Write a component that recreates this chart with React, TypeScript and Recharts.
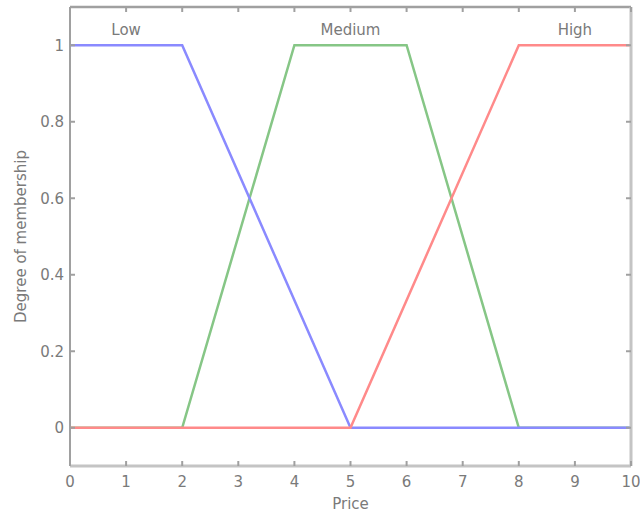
import React from 'react';
import { LineChart, Line, XAxis, YAxis, ReferenceDot } from 'recharts';

const lowX = [0, 2, 5, 10];
const lowY = [1, 1, 0, 0];
const mediumX = [0, 2, 4, 6, 8, 10];
const mediumY = [0, 0, 1, 1, 0, 0];
const highX = [0, 5, 8, 10];
const highY = [0, 0, 1, 1];
const xTicks = [0, 1, 2, 3, 4, 5, 6, 7, 8, 9, 10];
const yTicks = [0, 0.2, 0.4, 0.6, 0.8, 1];
const setLabels = ['Low', 'Medium', 'High'];
const setLabelX = [1, 5, 9];
const setLabelY = 1.042;

const toPts = (xs: number[], ys: number[]) => xs.map((x, i) => ({ x, y: ys[i] }));
const lowData = toPts(lowX, lowY);
const mediumData = toPts(mediumX, mediumY);
const highData = toPts(highX, highY);

const AXIS = '#a0a0a0';
const TXT = '#7a7a7a';
const FONT = '"DejaVu Sans", Verdana, sans-serif';
const FS = 15;

const BottomTick = (p: any) => (
  <g>
    <line x1={p.x} y1={p.y} x2={p.x} y2={p.y - 5} stroke={AXIS} strokeWidth={2} />
    <text x={p.x} y={p.y + 21} textAnchor="middle" fill={TXT} fontSize={FS} fontFamily={FONT}>
      {p.payload.value}
    </text>
  </g>
);
const TopTick = (p: any) => (
  <line x1={p.x} y1={p.y} x2={p.x} y2={p.y + 5} stroke={AXIS} strokeWidth={2} />
);
const LeftTick = (p: any) => (
  <g>
    <line x1={p.x} y1={p.y} x2={p.x + 5} y2={p.y} stroke={AXIS} strokeWidth={2} />
    <text x={p.x - 6} y={p.y + 5.5} textAnchor="end" fill={TXT} fontSize={FS} fontFamily={FONT}>
      {p.payload.value}
    </text>
  </g>
);
const RightTick = (p: any) => (
  <line x1={p.x} y1={p.y} x2={p.x - 5} y2={p.y} stroke={AXIS} strokeWidth={2} />
);

export default function App() {
  return (
    <div style={{ position: 'absolute', left: 0, top: 0, background: '#fff' }}>
      <LineChart width={640} height={514} margin={{ top: 6, right: 8, left: 0, bottom: 0 }}>
        <XAxis xAxisId="b" dataKey="x" type="number" domain={[0, 10]} ticks={xTicks} height={48}
          tickSize={0} tickMargin={0} tickLine={false} tick={BottomTick}
          axisLine={{ stroke: '#c4c4c4', strokeWidth: 3 }}
          label={{ value: 'Price', position: 'insideBottom', offset: 5.5, fill: TXT, fontSize: FS, fontFamily: FONT }} />
        <XAxis xAxisId="t" orientation="top" dataKey="x" type="number" domain={[0, 10]} ticks={xTicks} height={1}
          tickSize={0} tickMargin={0} tickLine={false} tick={TopTick}
          axisLine={{ stroke: AXIS, strokeWidth: 2.5 }} />
        <YAxis yAxisId="l" type="number" domain={[-0.1, 1.1]} ticks={yTicks} width={70}
          tickSize={0} tickMargin={0} tickLine={false} tick={LeftTick}
          axisLine={{ stroke: AXIS, strokeWidth: 2 }}
          label={{ value: 'Degree of membership', angle: -90, position: 'insideLeft', offset: 21, style: { textAnchor: 'middle' }, fill: TXT, fontSize: FS, fontFamily: FONT }} />
        <YAxis yAxisId="r" orientation="right" type="number" domain={[-0.1, 1.1]} ticks={yTicks} width={1}
          tickSize={0} tickMargin={0} tickLine={false} tick={RightTick}
          axisLine={{ stroke: '#c4c4c4', strokeWidth: 3 }} />
        <Line xAxisId="t" yAxisId="r" data={lowData} dataKey="y" stroke="none" dot={false} legendType="none" isAnimationActive={false} />
        <Line xAxisId="b" yAxisId="l" data={mediumData} dataKey="y" type="linear" stroke="#86c686" strokeWidth={2.5} dot={false} isAnimationActive={false} />
        <Line xAxisId="b" yAxisId="l" data={lowData} dataKey="y" type="linear" stroke="#8a8aff" strokeWidth={2.5} dot={false} isAnimationActive={false} />
        <Line xAxisId="b" yAxisId="l" data={highData} dataKey="y" type="linear" stroke="#ff8a8a" strokeWidth={2.5} dot={false} isAnimationActive={false} />
        {setLabels.map((s, i) => (
          <ReferenceDot key={s} xAxisId="b" yAxisId="l" x={setLabelX[i]} y={setLabelY} r={0} fill="none" stroke="none"
            label={{ value: s, position: 'center', fill: TXT, fontSize: FS, fontFamily: FONT }} />
        ))}
      </LineChart>
    </div>
  );
}
